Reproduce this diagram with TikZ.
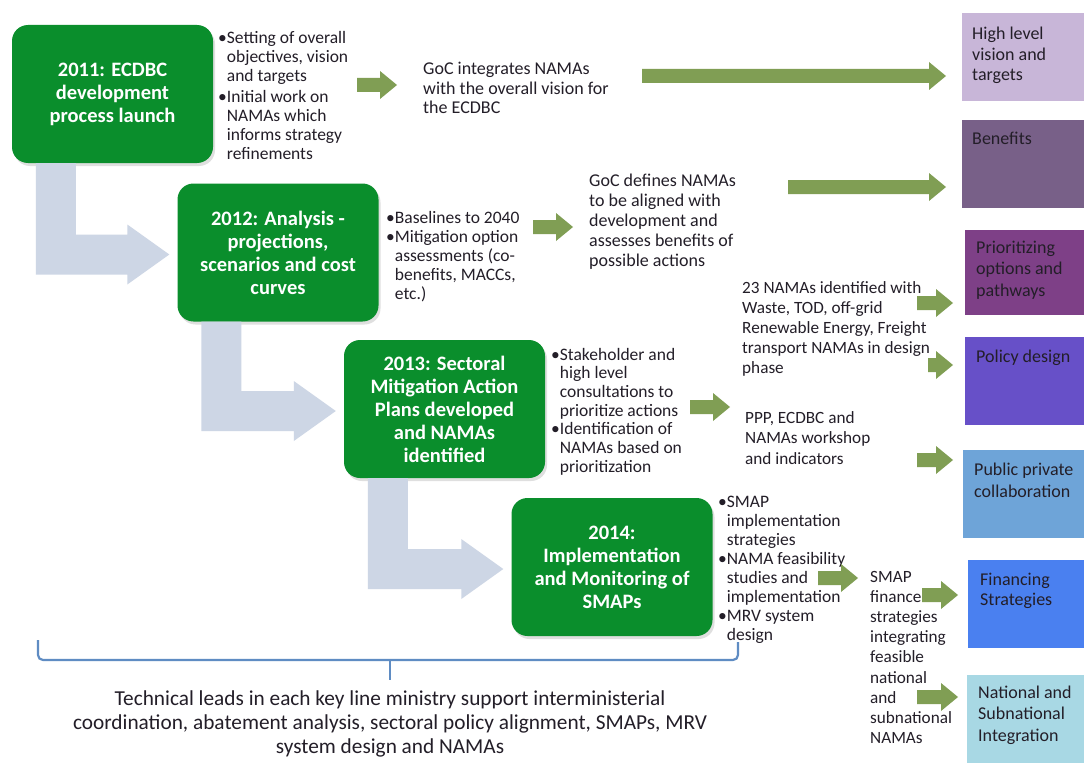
\documentclass[tikz,border=0pt]{standalone}
\usepackage{fontspec}
\setmainfont{Carlito}
\usetikzlibrary{calc,shadows}
\definecolor{boxgreen}{RGB}{10,142,44}
\definecolor{greyarr}{RGB}{205,214,229}
\definecolor{garr}{RGB}{128,158,84}
\definecolor{txtc}{RGB}{35,30,40}
\definecolor{cA}{RGB}{200,182,216}
\definecolor{cB}{RGB}{120,96,136}
\definecolor{cC}{RGB}{126,64,135}
\definecolor{cD}{RGB}{103,80,200}
\definecolor{cE}{RGB}{110,164,216}
\definecolor{cF}{RGB}{74,128,240}
\definecolor{cG}{RGB}{168,216,228}
\definecolor{brk}{RGB}{95,140,195}
\newcommand\myln[1]{\hbox{#1}}
\newcommand\mybl[1]{\hbox{\hphantom{•}#1}}
\newcommand\mylines[2]{\vtop{\baselineskip=#1\lineskiplimit=-\maxdimen\lineskip=0pt #2}}
\newcommand\myc[1]{\hbox to 0pt{\hss#1\hss}}
% green block arrow between two named coordinates (horizontal)
\newcommand\garrowfrom[2]{%
  \fill[garr] let \p1=(#1), \p2=(#2) in
    (\x1,\y1+7pt) -- (\x2-17pt,\y1+7pt) -- (\x2-17pt,\y1+14pt) -- (\x2,\y1)
    -- (\x2-17pt,\y1-14pt) -- (\x2-17pt,\y1-7pt) -- (\x1,\y1-7pt) -- cycle;}
% grey bent arrow from one box to the next
\newcommand\bentarrow[2]{%
  \fill[greyarr] let \p1=(#1.south west), \p2=(#2.west) in
    (\x1+24pt,\y1) -- (\x1+64pt,\y1) -- (\x1+64pt,\y2+18pt) -- (\x2-50pt,\y2+18pt)
    -- (\x2-50pt,\y2+28pt) -- (\x2-8pt,\y2-2pt) -- (\x2-50pt,\y2-32pt)
    -- (\x2-50pt,\y2-22pt) -- (\x1+24pt,\y2-22pt) -- cycle;}
\begin{document}
\begin{tikzpicture}[x=1pt,y=-1pt,
  gbox/.style={rounded corners=16pt, fill=boxgreen, text=white,
    font=\bfseries\fontsize{20.5}{23}\selectfont, align=center,
    minimum width=201pt, minimum height=138pt, inner sep=0pt,
    drop shadow={opacity=0.25, shadow xshift=2pt, shadow yshift=-3pt}},
  txt/.style={inner sep=0pt, anchor=base west, text=txtc,
    font=\fontsize{17.5}{19}\selectfont},
  txtb/.style={txt, font=\fontsize{18}{20}\selectfont},
  txts/.style={txt, font=\fontsize{17.2}{20}\selectfont},
  rbox/.style={anchor=north west, inner sep=0pt, draw=none, minimum width=122pt, minimum height=88pt},
  bracket/.style={draw=brk, line width=2.2pt, rounded corners=5pt}]
\useasboundingbox (0,0) rectangle (1084,765);
\fill[white] (0,0) rectangle (1084,765);

% green process boxes
\node[gbox] (g1) at (112.5,94) {2011: ECDBC\\development\\process launch};
\node[gbox] (g2) at (278,252.5) {2012: Analysis -\\projections,\\scenarios and cost\\curves};
\node[gbox] (g3) at (444.5,409) {2013: Sectoral\\Mitigation Action\\Plans developed\\and NAMAs\\identified};
\node[gbox] (g4) at (612,567) {2014:\\Implementation\\and Monitoring of\\SMAPs};

% grey bent arrows
\bentarrow{g1}{g2}
\bentarrow{g2}{g3}
\bentarrow{g3}{g4}

% bullet texts
\node[txt] (b1) at (218,44) {\mylines{19pt}{\myln{•Setting of overall}\mybl{objectives, vision}\mybl{and targets}\vskip2pt
  \myln{•Initial work on}\mybl{NAMAs which}\mybl{informs strategy}\mybl{refinements}}};
\node[txt] (b2) at (386,223) {\mylines{19.2pt}{\myln{•Baselines to 2040}\myln{•Mitigation option}\mybl{assessments (co-}\mybl{benefits, MACCs,}\mybl{etc.)}}};
\node[txt] (b3) at (551,360) {\mylines{18.7pt}{\myln{•Stakeholder and}\mybl{high level}\mybl{consultations to}\mybl{prioritize actions}\myln{•Identification of}\mybl{NAMAs based on}\mybl{prioritization}}};
\node[txt] (b4) at (718,507) {\mylines{19pt}{\myln{•SMAP}\mybl{implementation}\mybl{strategies}\myln{•NAMA feasibility}\mybl{studies and}\mybl{implementation}\myln{•MRV system}\mybl{design}}};

% outcome texts
\node[txtb] (t1) at (423,75) {\mylines{19.5pt}{\myln{GoC integrates NAMAs}\myln{with the overall vision for}\myln{the ECDBC}}};
\node[txtb] (t2) at (589,186) {\mylines{20.2pt}{\myln{GoC defines NAMAs}\myln{to be aligned with}\myln{development and}\myln{assesses benefits of}\myln{possible actions}}};
\node[txts] (t3) at (742,293) {\mylines{20.2pt}{\myln{23 NAMAs identified with}\myln{Waste, TOD, off-grid}\myln{Renewable Energy, Freight}\myln{transport NAMAs in design}\myln{phase}}};
\node[txts] (t4) at (745,423) {\mylines{20.5pt}{\myln{PPP, ECDBC and}\myln{NAMAs workshop}\myln{and indicators}}};
\node[txts] (t5) at (870,582) {\mylines{20.2pt}{\myln{SMAP}\myln{finance}\myln{strategies}\myln{integrating}\myln{feasible}\myln{national}\myln{and}\myln{subnational}\myln{NAMAs}}};

% right column boxes
\node[rbox, fill=cA] (rA) at (962,13) {};
\node[rbox, fill=cB] (rB) at (962,120) {};
\node[rbox, fill=cC, minimum height=85pt] (rC) at (965,230) {};
\node[rbox, fill=cD] (rD) at (965,337) {};
\node[rbox, fill=cE] (rE) at (963,450) {};
\node[rbox, fill=cF] (rF) at (968,560) {};
\node[rbox, fill=cG] (rG) at (967,675) {};
\node[txtb] (rAt) at (972,40) {\mylines{20.5pt}{\myln{High level}\myln{vision and}\myln{targets}}};
\node[txtb] (rBt) at (972,145) {Benefits};
\node[txtb] (rCt) at (976,253) {\mylines{21.5pt}{\myln{Prioritizing}\myln{options and}\myln{pathways}}};
\node[txtb] (rDt) at (976,362) {Policy design};
\node[txtb] (rEt) at (974,475) {\mylines{22pt}{\myln{Public private}\myln{collaboration}}};
\node[txtb] (rFt) at (980,585) {\mylines{20.5pt}{\myln{Financing}\myln{Strategies}}};
\node[txtb] (rGt) at (978,698) {\mylines{21.5pt}{\myln{National and}\myln{Subnational}\myln{Integration}}};

% green arrows
\coordinate (a1s) at (357,85);  \coordinate (a1e) at (397,85);
\coordinate (a2s) at (642,76);  \coordinate (a2e) at (946,76);
\coordinate (a3s) at (533,227); \coordinate (a3e) at (573,227);
\coordinate (a4s) at (788,187); \coordinate (a4e) at (946,187);
\coordinate (a5s) at (917,303); \coordinate (a5e) at (953,303);
\coordinate (a6s) at (928,365); \coordinate (a6e) at (953,365);
\coordinate (a7s) at (690,407); \coordinate (a7e) at (730,407);
\coordinate (a8s) at (917,460); \coordinate (a8e) at (953,460);
\coordinate (a9s) at (818,578); \coordinate (a9e) at (858,578);
\coordinate (a10s) at (922,595); \coordinate (a10e) at (958,595);
\coordinate (a11s) at (917,697); \coordinate (a11e) at (958,697);
\garrowfrom{a1s}{a1e}
\garrowfrom{a2s}{a2e}
\garrowfrom{a3s}{a3e}
\garrowfrom{a4s}{a4e}
\garrowfrom{a5s}{a5e}
\garrowfrom{a6s}{a6e}
\garrowfrom{a7s}{a7e}
\garrowfrom{a8s}{a8e}
\garrowfrom{a9s}{a9e}
\garrowfrom{a10s}{a10e}
\garrowfrom{a11s}{a11e}

% bracket
\coordinate (brL) at (38,640);
\coordinate (brR) at (738,642);
\coordinate (brM) at (390,680);
\draw[bracket] (brL) -- (38,660) -- (738,660) -- (brR);
\draw[bracket, rounded corners=0pt] (390,660) -- (brM);

% bottom text
\node[txt, anchor=base, font=\fontsize{21.3}{24}\selectfont] (bt) at (390,705) {\mylines{24pt}{%
  \myc{Technical leads in each key line ministry support interministerial}%
  \myc{coordination, abatement analysis, sectoral policy alignment, SMAPs, MRV}%
  \myc{system design and NAMAs}}};
\end{tikzpicture}
\end{document}
